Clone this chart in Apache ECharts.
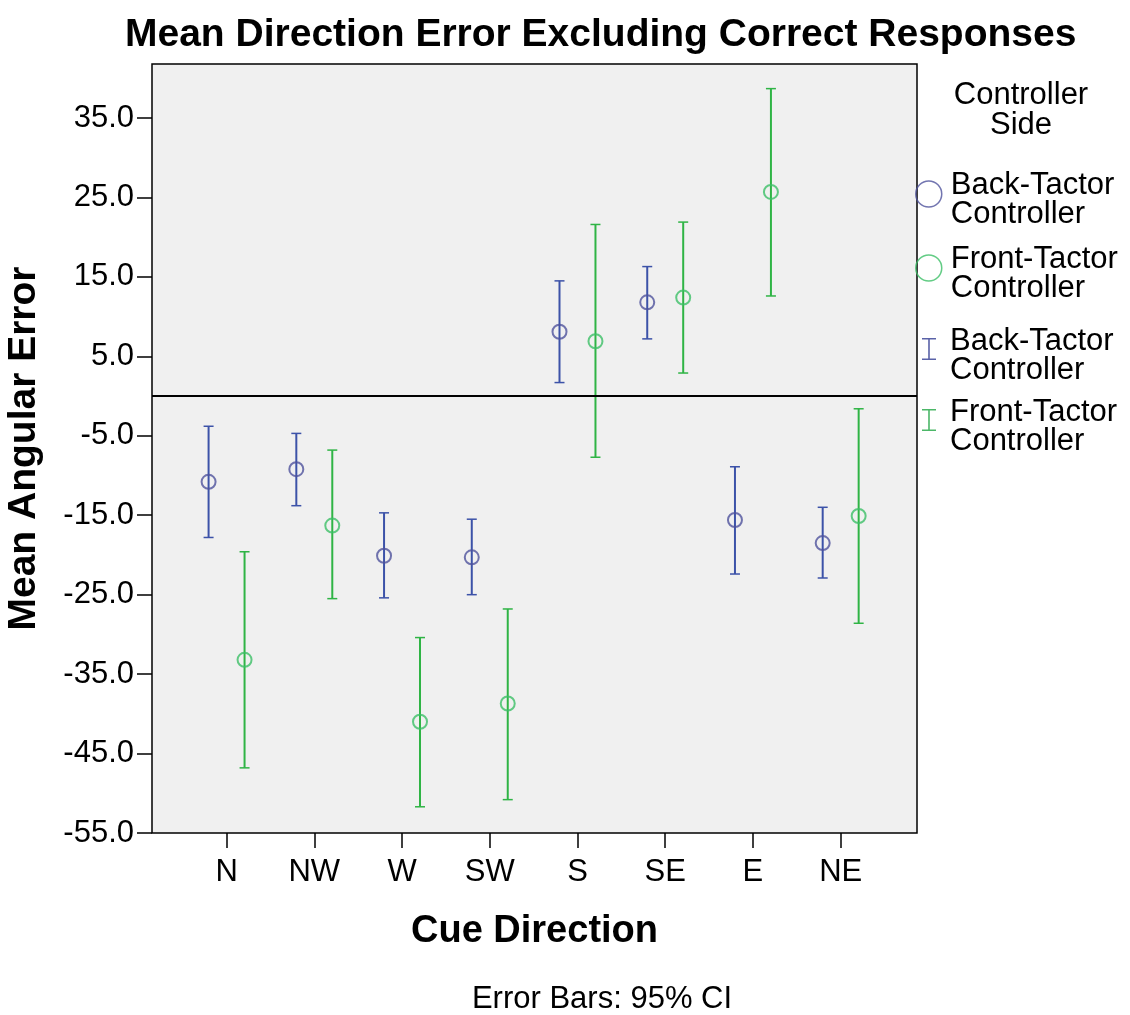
<!DOCTYPE html>
<html>
<head>
<meta charset="utf-8">
<script src="https://cdn.jsdelivr.net/npm/echarts@6/dist/echarts.min.js"></script>
<style>
  html, body { margin: 0; padding: 0; background: #fff; }
  #main { width: 1130px; height: 1015px; }
</style>
</head>
<body>
<div id="main"></div>
<script>
var categories = ['N', 'NW', 'W', 'SW', 'S', 'SE', 'E', 'NE'];
var backMean  = [-10.8, -9.2, -20.1, -20.3, 8.1, 11.8, -15.6, -18.5];
var backLow   = [-17.8, -13.8, -25.4, -25.0, 1.7, 7.2, -22.4, -22.9];
var backHigh  = [-3.8, -4.7, -14.7, -15.5, 14.5, 16.3, -8.9, -14.0];
var frontMean = [-33.2, -16.3, -41.0, -38.7, 6.9, 12.4, 25.7, -15.1];
var frontLow  = [-46.8, -25.5, -51.7, -50.8, -7.7, 2.9, 12.6, -28.6];
var frontHigh = [-19.6, -6.8, -30.4, -26.8, 21.6, 21.9, 38.7, -1.6];
var yTicks = [-55, -45, -35, -25, -15, -5, 5, 15, 25, 35];

var FONT = "'Liberation Sans', Arial, sans-serif";
var BLUE = '#3c52a8', BLUE_DOT = '#4f539c';
var GREEN = '#2fb445', GREEN_DOT = '#3cbf66';
var SHIFT = 0.205; // dodge of the two groups within a category

var legendText = {
  bm: 'Back-Tactor\nController',
  fm: 'Front-Tactor\nController',
  bc: 'Back-Tactor\nController',
  fc: 'Front-Tactor\nController'
};

function points(means, shift) {
  return means.map(function (v, i) { return [i + shift, v]; });
}
function ranges(lows, highs, shift) {
  return lows.map(function (v, i) { return [i + shift, v, highs[i]]; });
}

function renderBar(params, api) {
  var lo = api.coord([api.value(0), api.value(1)]);
  var hi = api.coord([api.value(0), api.value(2)]);
  var c = api.visual('color');
  var w = 5;
  return {
    type: 'group',
    children: [
      { type: 'line', shape: { x1: lo[0], y1: lo[1], x2: hi[0], y2: hi[1] }, style: { stroke: c, lineWidth: 2 } },
      { type: 'line', shape: { x1: lo[0] - w, y1: lo[1], x2: lo[0] + w, y2: lo[1] }, style: { stroke: c, lineWidth: 1.5 } },
      { type: 'line', shape: { x1: hi[0] - w, y1: hi[1], x2: hi[0] + w, y2: hi[1] }, style: { stroke: c, lineWidth: 1.5 } }
    ]
  };
}

// legend icons sit a little above the middle of their two-line label,
// so each path reaches further down (empty move / tiny dot) to push the shape up
var RING = 'path://M13,38M0,13a13,13 0 1,0 26,0a13,13 0 1,0 -26,0z';
var IBEAM = 'path://M0,0h14v1.6h-14zM6.2,0h1.6v22h-1.6zM0,20.4h14v1.6h-14zM7,36h0.01v0.01h-0.01z';

var chart = echarts.init(document.getElementById('main'));
var option = {
  animation: false,
  backgroundColor: '#fff',
  textStyle: { fontFamily: FONT },
  title: {
    text: 'Mean Direction Error Excluding Correct Responses',
    left: 125,
    top: 16,
    padding: 0,
    textStyle: { fontFamily: FONT, fontSize: 39, fontWeight: 'bold', color: '#000' }
  },
  graphic: [
    {
      type: 'text', x: 1021, y: 80,
      style: { text: 'Controller\nSide', font: '31px ' + FONT, fill: '#000', align: 'center', lineHeight: 30 }
    },
    {
      type: 'text', x: 602, y: 984,
      style: { text: 'Error Bars: 95% CI', font: '31px ' + FONT, fill: '#000', align: 'center' }
    }
  ],
  legend: [
    {
      orient: 'vertical', left: 915, top: 170, padding: 0,
      itemWidth: 26, itemHeight: 38, itemGap: 14,
      selectedMode: false,
      formatter: function (n) { return legendText[n]; },
      textStyle: { fontFamily: FONT, fontSize: 31, lineHeight: 29, color: '#000', padding: [0, 0, 0, 4] },
      data: [
        { name: 'bm', icon: RING, itemStyle: { color: 'transparent', borderColor: BLUE_DOT, borderWidth: 1.5 } },
        { name: 'fm', icon: RING, itemStyle: { color: 'transparent', borderColor: GREEN_DOT, borderWidth: 1.5 } }
      ]
    },
    {
      orient: 'vertical', left: 922, top: 326, padding: 0,
      itemWidth: 14, itemHeight: 36, itemGap: 11,
      selectedMode: false,
      formatter: function (n) { return legendText[n]; },
      textStyle: { fontFamily: FONT, fontSize: 31, lineHeight: 29, color: '#000', padding: [0, 0, 0, 9] },
      data: [
        { name: 'bc', icon: IBEAM, itemStyle: { color: '#5a62a8' } },
        { name: 'fc', icon: IBEAM, itemStyle: { color: '#4cb768' } }
      ]
    }
  ],
  grid: {
    left: 152, right: 213, top: 64, bottom: 182,
    outerBoundsMode: 'none',
    show: true, backgroundColor: '#f0f0f0', borderColor: '#000', borderWidth: 1.5
  },
  xAxis: {
    type: 'value',
    min: -0.85,
    max: 7.87,
    name: 'Cue Direction',
    nameLocation: 'middle',
    nameGap: 80,
    nameTextStyle: { fontFamily: FONT, fontSize: 38, fontWeight: 'bold', color: '#000' },
    splitLine: { show: false },
    axisLine: { show: false, onZero: false },
    axisTick: { show: true, length: 15, lineStyle: { color: '#000', width: 1.5 }, customValues: [0, 1, 2, 3, 4, 5, 6, 7] },
    axisLabel: {
      customValues: [0, 1, 2, 3, 4, 5, 6, 7],
      formatter: function (v) { return categories[Math.round(v)]; },
      fontFamily: FONT, fontSize: 31, color: '#000', margin: 24
    }
  },
  yAxis: {
    type: 'value',
    min: -55,
    max: 41.8,
    name: 'Mean Angular Error',
    nameLocation: 'middle',
    nameGap: 108,
    nameTextStyle: { fontFamily: FONT, fontSize: 39, fontWeight: 'bold', color: '#000' },
    splitLine: { show: false },
    axisLine: { show: false, onZero: false },
    axisTick: { show: true, length: 15, lineStyle: { color: '#000', width: 1.5 }, customValues: yTicks },
    axisLabel: {
      customValues: yTicks,
      formatter: function (v) { return v.toFixed(1); },
      fontFamily: FONT, fontSize: 31, color: '#000', margin: 18
    }
  },
  series: [
    {
      name: 'bc', type: 'custom', renderItem: renderBar,
      itemStyle: { color: BLUE },
      data: ranges(backLow, backHigh, -SHIFT),
      markLine: {
        silent: true, symbol: 'none', label: { show: false },
        lineStyle: { color: '#000', width: 2, type: 'solid' },
        data: [{ yAxis: 0 }]
      },
      z: 2
    },
    {
      name: 'fc', type: 'custom', renderItem: renderBar,
      itemStyle: { color: GREEN },
      data: ranges(frontLow, frontHigh, SHIFT),
      z: 2
    },
    {
      name: 'bm', type: 'scatter', symbol: 'circle', symbolSize: 14,
      itemStyle: { color: 'transparent', borderColor: BLUE_DOT, borderWidth: 2 },
      data: points(backMean, -SHIFT),
      z: 3
    },
    {
      name: 'fm', type: 'scatter', symbol: 'circle', symbolSize: 14,
      itemStyle: { color: 'transparent', borderColor: GREEN_DOT, borderWidth: 2 },
      data: points(frontMean, SHIFT),
      z: 3
    }
  ]
};
chart.setOption(option);
</script>
</body>
</html>
